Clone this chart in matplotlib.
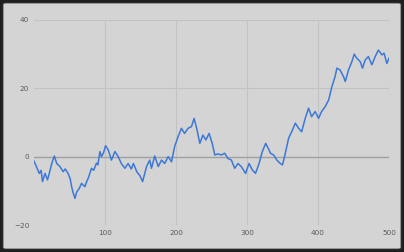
import matplotlib
matplotlib.use("Agg")
import matplotlib.pyplot as plt
from matplotlib.patches import FancyBboxPatch

# values (step index, value)
steps = [0, 4, 7.5, 10, 12, 15.5, 19, 22, 25, 28.6, 32, 36.6, 41, 44, 48, 51, 53,
         55, 57.7, 60, 63.7, 67, 71.7, 74, 76.4, 81, 84, 88, 90, 92.8, 95, 98,
         100.8, 104.5, 107, 109, 114, 118.6, 123, 128, 132.6, 137, 140, 145, 149,
         153, 158.5, 163, 165.5, 170, 175, 179.6, 184, 189, 193.7, 198, 203, 207.7,
         212, 217, 221.8, 225.5, 229.7, 233.5, 238, 242, 246.6, 251, 254.6, 259,
         264, 268.6, 273, 278, 282.7, 287.3, 292, 298, 302.8, 307.6, 312, 317,
         321.6, 326.3, 331, 333, 337.6, 342, 347, 350, 354, 358.6, 363, 368, 372.7,
         377, 382, 386.7, 391, 396, 400.8, 405, 410, 415, 419.6, 424, 426.6, 431,
         436, 438.4, 443, 447.7, 451, 454.7, 459.5, 462.7, 466.5, 471, 475.8,
         480.6, 485, 490, 493, 497, 500]
values = [-1.3, -3.2, -4.9, -4.0, -7.3, -4.9, -6.8, -4.5, -2.0, 0.2, -2.0, -2.9, -4.4,
          -3.6, -4.9, -6.5, -8.8, -10.5, -12.2, -10.4, -9.3, -7.8, -8.8, -7.4, -6.3,
          -3.4, -4.0, -1.9, -2.4, 1.5, 0.0, 1.2, 3.2, 2.0, 0.4, -1.0, 1.5, 0.0, -2.0,
          -3.4, -2.0, -3.6, -2.0, -4.5, -5.5, -7.3, -2.9, -1.0, -3.4, 0.2, -2.9, -1.0,
          -2.0, 0.0, -1.5, 2.9, 5.9, 8.3, 6.8, 8.3, 8.8, 11.2, 7.8, 3.9, 6.3, 4.9, 6.8,
          3.9, 0.5, 0.8, 0.5, 1.0, -0.5, -1.0, -3.4, -2.0, -2.9, -4.9, -2.0, -3.9,
          -4.9, -2.0, 1.5, 3.9, 2.0, 1.0, 0.5, -1.0, -2.0, -2.4, 1.0, 5.4, 7.3, 9.8,
          8.3, 7.3, 11.2, 14.2, 11.7, 13.2, 11.2, 13.2, 14.6, 16.6, 20.5, 23.4, 25.9,
          25.4, 23.4, 22.0, 25.4, 27.8, 30.0, 28.8, 27.8, 25.9, 28.3, 29.3, 26.9,
          29.3, 31.2, 29.8, 30.3, 27.3, 28.8]

x_ticks = [100, 200, 300, 400, 500]
y_ticks = [-20, 0, 20, 40]

fig = plt.figure(figsize=(4.04, 2.52), dpi=100)
fig.patch.set_facecolor("#1f1f1f")
panel = FancyBboxPatch((3 / 404, 3 / 252), 398 / 404, 246 / 252,
                       boxstyle="round,pad=0,rounding_size=0.006",
                       transform=fig.transFigure, facecolor="#d4d4d4",
                       edgecolor="#3a3a3a", linewidth=0.6, zorder=-10)
fig.add_artist(panel)

ax = fig.add_axes([34 / 404, 27 / 252, 355 / 404, 205 / 252])
ax.set_zorder(5)
ax.set_facecolor("none")
for s in ax.spines.values():
    s.set_visible(False)

for xt in x_ticks:
    ax.axvline(xt, color="#c2c2c2", linewidth=0.8, zorder=1)
for yt in y_ticks:
    ax.axhline(yt, color="#a0a0a0" if yt == 0 else "#c2c2c2",
               linewidth=1.0 if yt == 0 else 0.8, zorder=1)

ax.plot(steps, values, color="#3c78d8", linewidth=1.1, zorder=3)

ax.set_xlim(0, 500)
ax.set_ylim(-20, 40)
ax.set_xticks(x_ticks)
ax.set_yticks(y_ticks)
ax.tick_params(length=0, labelsize=5.2, labelcolor="#5a5a5a", pad=3.5)

fig.savefig("out.png", dpi=100, facecolor=fig.get_facecolor())
